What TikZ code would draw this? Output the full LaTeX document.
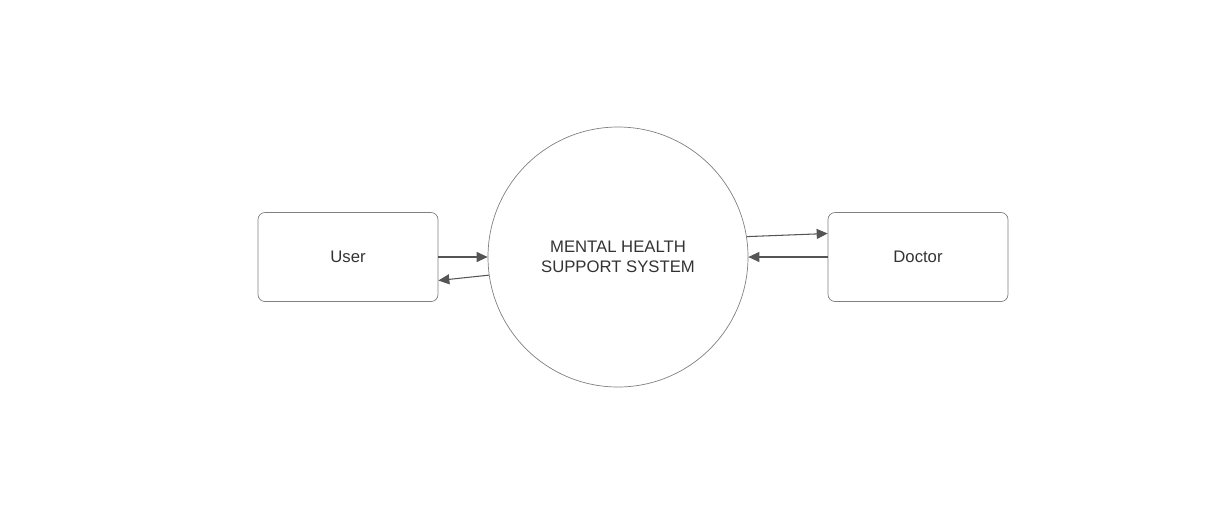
\documentclass[tikz,border=0pt]{standalone}
\usepackage{fontspec}
\setmainfont{Liberation Sans}
\usepackage{tikz}
\usetikzlibrary{arrows.meta}

\definecolor{edgegray}{HTML}{808080}
\definecolor{flowgray}{HTML}{555555}
\definecolor{textgray}{HTML}{333333}

\begin{document}
\begin{tikzpicture}[
		entity/.style={draw=edgegray,rounded corners=4pt,minimum width=3.6cm,minimum height=1.78cm,inner sep=0pt,text=textgray,font=\fontsize{9.5}{11.3}\selectfont},
		process/.style={draw=edgegray,circle,minimum size=5.2cm,inner sep=0pt,text=textgray,align=center,font=\fontsize{9.5}{11.3}\selectfont},
		flow/.style={draw=flowgray,line width=0.6pt,-{Triangle[length=0.22cm,width=0.2cm]}}
	]
	\useasboundingbox (0,0) rectangle (24.12,-10.38);
	% the system and the two outside entities
	\node[process] (sys) at (12.36,-5.14) {MENTAL HEALTH\\SUPPORT SYSTEM};
	\node[entity] (user) at (6.96,-5.14) {User};
	\node[entity] (doctor) at (18.36,-5.14) {Doctor};
	% flows on the user side
	\draw[flow] (user.east) -- (sys.west);
	\draw[flow] (sys.188.8) -- ([yshift=-0.47cm]user.east);
	% flows on the doctor side
	\draw[flow] (sys.9.3) -- ([yshift=0.47cm]doctor.west);
	\draw[flow] (doctor.west) -- (sys.east);
\end{tikzpicture}
\end{document}
